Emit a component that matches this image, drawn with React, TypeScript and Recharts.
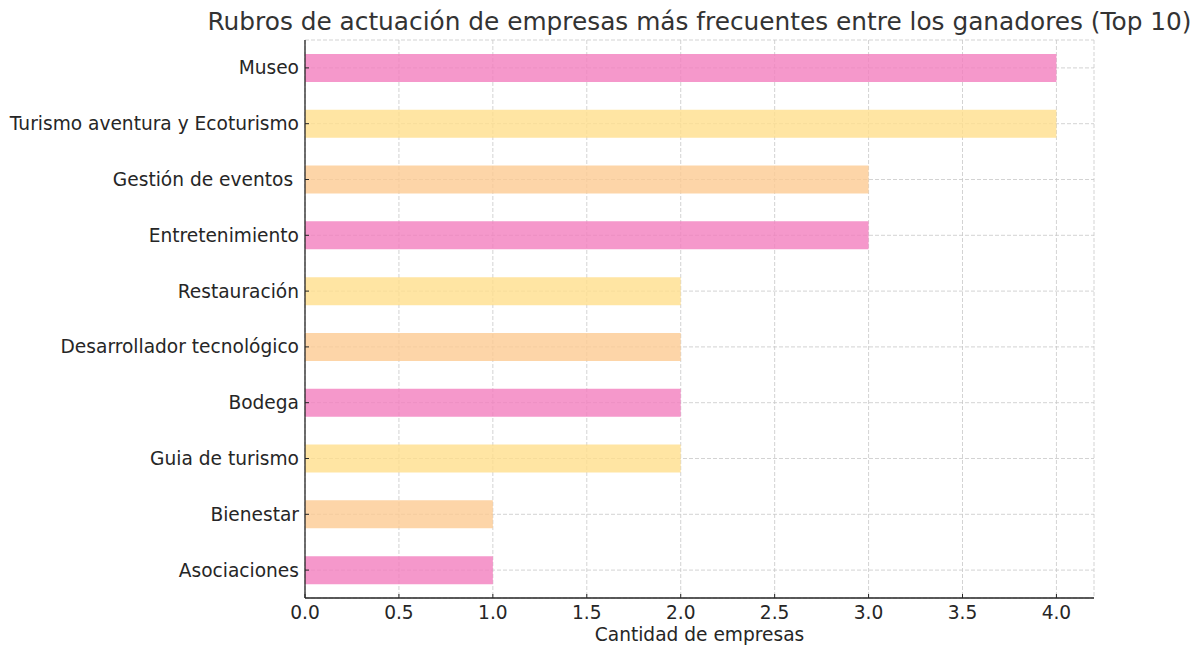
import { BarChart, Bar, XAxis, YAxis, CartesianGrid, Cell } from 'recharts'

// ── Data ─────────────────────────────────────────────────────────────

const CATEGORIES = [
  'Museo',
  'Turismo aventura y Ecoturismo',
  'Gestión de eventos ',
  'Entretenimiento',
  'Restauración',
  'Desarrollador tecnológico',
  'Bodega',
  'Guia de turismo',
  'Bienestar',
  'Asociaciones',
]

const COUNTS = [4, 4, 3, 3, 2, 2, 2, 2, 1, 1]

const X_TICKS = [0, 0.5, 1, 1.5, 2, 2.5, 3, 3.5, 4]

const BAR_COLORS = ['#f27ebe', '#ffdf8c', '#fdcb92']

const TITLE = 'Rubros de actuación de empresas más frecuentes entre los ganadores (Top 10)'
const X_LABEL = 'Cantidad de empresas'

const data = CATEGORIES.map((name, i) => ({ name, value: COUNTS[i] }))

// ── Layout ───────────────────────────────────────────────────────────

const W = 1203
const H = 648
const PLOT_LEFT = 305
const PLOT_TOP = 40
const PLOT_RIGHT = 1094
const PLOT_BOTTOM = 598
const FONT = '"DejaVu Sans", sans-serif'
const INK = '#262626'
const LABEL_SIZE = 18.6

// matplotlib-style ticks: short marks pointing into the plot
function XTick({ x, payload }: any) {
  return (
    <g>
      <line x1={x} x2={x} y1={PLOT_BOTTOM} y2={PLOT_BOTTOM - 4} stroke={INK} strokeWidth={1} />
      <text x={x} y={PLOT_BOTTOM + 21} textAnchor="middle" fill={INK} fontSize={LABEL_SIZE} fontFamily={FONT}>
        {Number(payload.value).toFixed(1)}
      </text>
    </g>
  )
}

function YTick({ y, payload }: any) {
  return (
    <g>
      <line x1={PLOT_LEFT} x2={PLOT_LEFT + 4} y1={y} y2={y} stroke={INK} strokeWidth={1} />
      <text x={PLOT_LEFT - 6} y={y} dy="0.35em" textAnchor="end" fill={INK} fontSize={LABEL_SIZE} fontFamily={FONT} style={{ whiteSpace: 'pre' }}>
        {payload.value}
      </text>
    </g>
  )
}

export default function App() {
  return (
    <div style={{ position: 'fixed', top: 0, left: 0, width: W, height: H, background: '#fff', overflow: 'hidden' }}>
      <div style={{
        position: 'absolute',
        top: 7,
        left: (PLOT_LEFT + PLOT_RIGHT) / 2 - 600,
        width: 1200,
        textAlign: 'center',
        fontFamily: FONT,
        fontSize: 24.8,
        lineHeight: '30px',
        color: '#333',
        whiteSpace: 'nowrap',
      }}>
        {TITLE}
      </div>
      <div style={{
        position: 'absolute',
        top: 623,
        left: (PLOT_LEFT + PLOT_RIGHT) / 2 - 300,
        width: 600,
        textAlign: 'center',
        fontFamily: FONT,
        fontSize: LABEL_SIZE,
        lineHeight: '24px',
        color: INK,
      }}>
        {X_LABEL}
      </div>
      <div style={{ position: 'absolute', top: 0, left: 0 }}>
        <BarChart
          width={W}
          height={H}
          data={data}
          layout="vertical"
          margin={{ top: PLOT_TOP, right: W - PLOT_RIGHT, bottom: 0, left: 0 }}
          barCategoryGap="25%"
        >
          <CartesianGrid stroke="#c8c8c8" strokeDasharray="4 2" strokeWidth={0.8} />
          <XAxis
            type="number"
            domain={[0, 4.2]}
            ticks={X_TICKS}
            height={H - PLOT_BOTTOM}
            axisLine={{ stroke: INK, strokeWidth: 1.3 }}
            tickLine={false}
            tick={<XTick />}
            interval={0}
          />
          <YAxis
            type="category"
            dataKey="name"
            width={PLOT_LEFT}
            axisLine={{ stroke: INK, strokeWidth: 1.3 }}
            tickLine={false}
            tick={<YTick />}
            interval={0}
          />
          <Bar dataKey="value" isAnimationActive={false} fillOpacity={0.8}>
            {data.map((d, i) => (
              <Cell key={d.name} fill={BAR_COLORS[i % BAR_COLORS.length]} />
            ))}
          </Bar>
        </BarChart>
      </div>
    </div>
  )
}
